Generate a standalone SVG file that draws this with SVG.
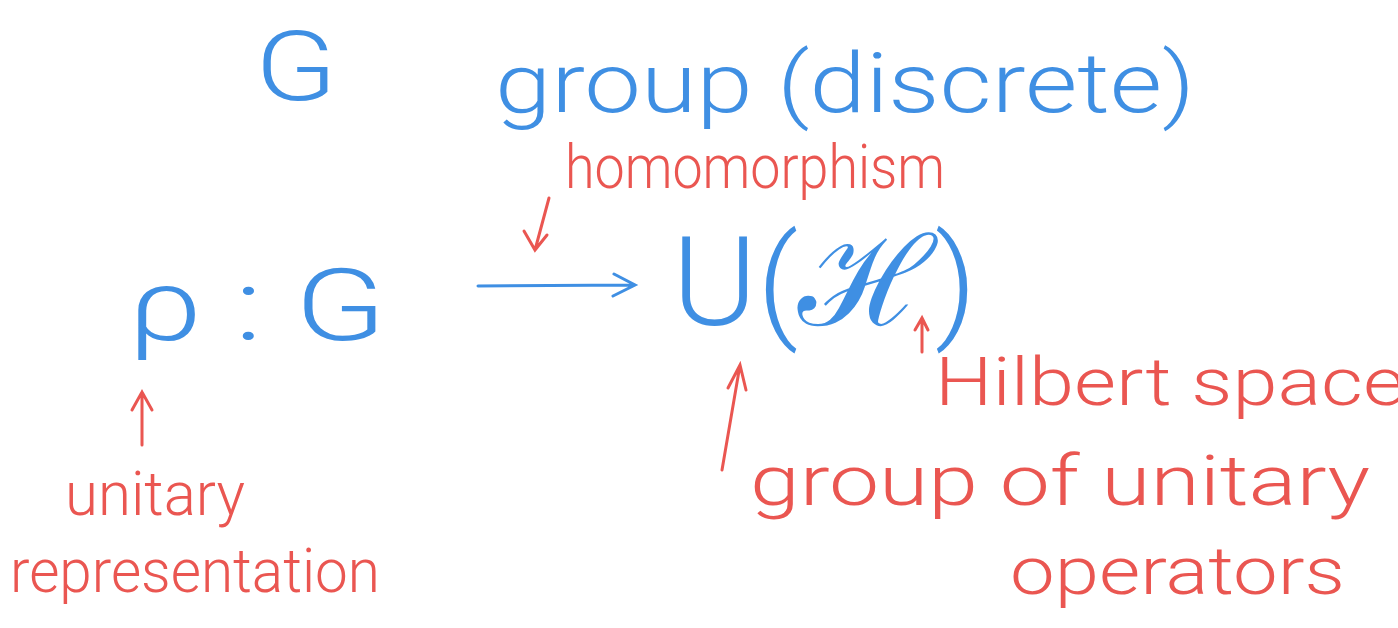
<svg xmlns="http://www.w3.org/2000/svg" width="1398" height="628" viewBox="0 0 1398 628">
<style>
.b{fill:#3f8fe3;font-family:"Roboto","Liberation Sans",sans-serif;font-weight:300;}
.r{fill:#ea5651;font-family:"Roboto","Liberation Sans",sans-serif;font-weight:300;}
.lb{stroke:#3f8fe3;stroke-width:3;fill:none;stroke-linecap:round}
.lr{stroke:#ea5651;stroke-width:3;fill:none;stroke-linecap:round}
</style>
<rect width="1398" height="628" fill="#ffffff"/>
<g id="G-top"><text class="b" x="255" y="100" font-size="96" textLength="82" lengthAdjust="spacingAndGlyphs">G</text></g>
<g id="group-discrete"><text class="b" x="495" y="112" font-size="84" textLength="700" lengthAdjust="spacingAndGlyphs">group (discrete)</text></g>
<g id="homomorphism"><text class="r" x="565" y="188" font-size="62" textLength="380" lengthAdjust="spacingAndGlyphs">homomorphism</text></g>
<g id="rho-G"><text class="b" x="128" y="340" font-size="100" textLength="258" lengthAdjust="spacingAndGlyphs">ρ : G</text></g>
<g id="UH"><text class="b" x="672" y="325" font-size="125" textLength="305" lengthAdjust="spacingAndGlyphs">U(ℋ)</text></g>
<g id="hilbert"><text class="r" x="935" y="405" font-size="66" textLength="470" lengthAdjust="spacingAndGlyphs">Hilbert space</text></g>
<g id="unitary-rep">
<text class="r" x="65" y="515" font-size="62" textLength="180" lengthAdjust="spacingAndGlyphs">unitary</text>
<text class="r" x="10" y="592" font-size="62" textLength="370" lengthAdjust="spacingAndGlyphs">representation</text>
</g>
<g id="group-unitary">
<text class="r" x="750" y="505" font-size="70" textLength="620" lengthAdjust="spacingAndGlyphs">group of unitary</text>
<text class="r" x="1010" y="594" font-size="66" textLength="335" lengthAdjust="spacingAndGlyphs">operators</text>
</g>
<g id="connectors">
<path class="lb" d="M478 286 L634 285 M614 274 L635 285 L613 296"/>
<path class="lr" d="M549 198 L535 250 M524 231 L535 250 L547 235"/>
<path class="lr" d="M922 352 L922 318 M915 330 L922 318 L928 330"/>
<path class="lr" d="M142 445 L142 392 M132 410 L142 392 L152 410"/>
<path class="lr" d="M722 470 L740 365 M728 388 L740 365 L746 390"/>
</g>
</svg>
